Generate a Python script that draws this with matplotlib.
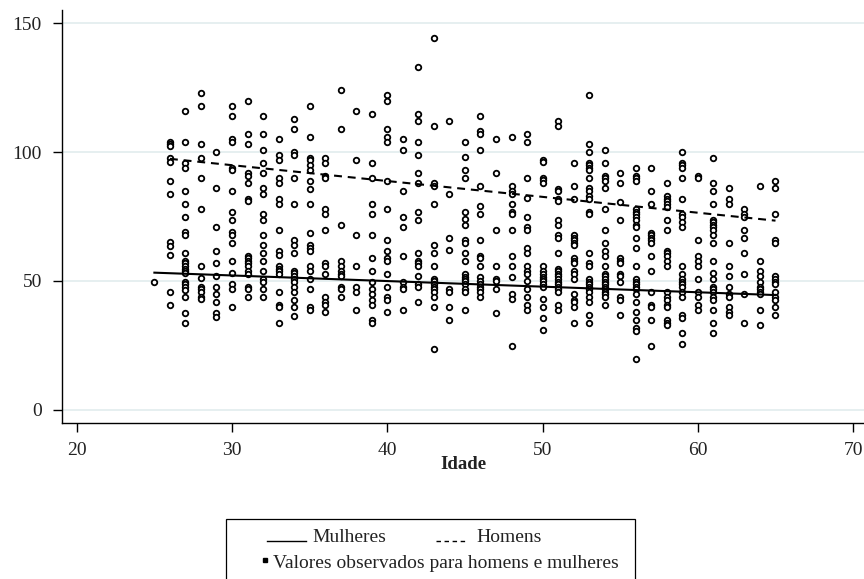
import matplotlib
matplotlib.use("Agg")
import matplotlib.pyplot as plt
from matplotlib.lines import Line2D
from matplotlib.patches import Rectangle

# ---------------- data ----------------
idade = [25, 26, 27, 28, 29, 30, 31, 32, 33, 34, 35, 36, 37, 38, 39, 40, 41, 42, 43, 44, 45,
         46, 47, 48, 49, 50, 51, 52, 53, 54, 55, 56, 57, 58, 59, 60, 61, 62, 63, 64, 65]

valores_observados = [
    [49.7],
    [104, 103, 102.5, 97.9, 96.2, 88.9, 83.8, 65, 63.4, 59.9, 45.7, 40.7],
    [116, 103.9, 95.8, 93.9, 84.9, 79.8, 74.8, 68.9, 68, 60.8, 57.8, 56.8, 55.8, 54.8, 53.8, 52.9,
     49.7, 48.7, 47.6, 46.6, 43.7, 37.6, 33.7],
    [123, 118.1, 103, 97.9, 89.8, 77.8, 55.7, 51.3, 47.8, 46.7, 45.7, 43.7, 42.8],
    [100, 85.9, 70.8, 61.8, 56.8, 51.8, 47.8, 44.8, 41.8, 37.7, 35.8],
    [118.1, 114, 105, 104, 93.9, 93, 84.9, 76.9, 73.8, 68.9, 67.8, 64.7, 57.8, 52.9, 48.8, 46.7, 39.7],
    [120, 107, 103, 91.9, 90.9, 87.9, 81.9, 81, 59.7, 58.7, 57.8, 56.8, 55.7, 53.8, 52.7, 47.8, 46.7, 43.7],
    [114, 107, 101, 95.9, 91.9, 85.9, 83.8, 75.9, 73.8, 67.8, 63.8, 60.8, 57.8, 53.8, 50.6, 49.7, 46.7, 43.7],
    [105, 99, 97, 90, 87.9, 81.9, 79.9, 69.8, 61.8, 59.9, 55.8, 54.8, 53.8, 52.7, 45.7, 40.7, 39.7, 33.7],
    [113, 109, 100, 99, 89.8, 79.8, 65.7, 63.8, 60.8, 53.8, 52.9, 51.8, 50.8, 49.7, 47.8, 45.7, 42.7, 39.7, 36.2],
    [118.1, 106, 97.9, 96.9, 94.9, 93, 88.9, 85.8, 79.8, 68.7, 63.8, 62.7, 61.8, 55.8, 53.8, 50.8, 46.7, 39.7, 38.6],
    [97.9, 95.9, 90.9, 89.8, 77.8, 75.9, 69.8, 56.8, 55.7, 52.7, 43.7, 41.8, 40.7, 37.8],
    [124, 109, 71.9, 57.8, 55.7, 53.8, 52.7, 51.8, 47.8, 46.7, 43.7],
    [116, 97, 67.8, 55.7, 47.8, 45.7, 38.6],
    [115, 95.9, 89.8, 79.8, 75.9, 67.8, 58.7, 53.8, 49.7, 46.7, 44.8, 42.7, 40.7, 34.8, 33.7],
    [122, 120, 109, 106, 103.9, 88.9, 77.8, 65.7, 61.8, 58.7, 57.8, 52.7, 47.8, 43.7, 42.7, 37.8],
    [105, 100.9, 84.9, 74.8, 70.8, 59.7, 49.7, 47.8, 46.7, 38.6],
    [133.1, 115, 112, 103.9, 99, 91.9, 87.9, 76.8, 73.8, 60.8, 57.8, 56.8, 55.7, 51.8, 48.7, 47.8, 41.8],
    [144.2, 110.1, 87.9, 86.9, 79.9, 63.9, 60.9, 55.9, 50.8, 49.8, 48.7, 47.8, 46.8, 45.8, 43.8, 39.8, 23.7],
    [112.2, 83.9, 66.8, 61.9, 46.8, 45.8, 39.8, 34.7],
    [104, 98, 93, 90, 76.9, 73.9, 71.9, 65.9, 64.9, 60.9, 57.9, 52.8, 51.7, 50.8, 49.8, 48.7, 46.8, 45.8, 38.7],
    [114.1, 108.1, 107, 101, 86.9, 79, 75.8, 65.9, 59.8, 58.8, 55.9, 51.7, 49.8, 48.7, 47.8, 46.8, 45.8, 43.8],
    [105, 92, 69.8, 55.9, 50.8, 49.8, 46.8, 37.7],
    [106, 86.9, 85, 83.9, 79.9, 76.9, 75.8, 69.8, 59.8, 55.9, 51.7, 44.8, 42.8, 24.8],
    [107, 104, 90, 82, 74.9, 70.9, 69.8, 62.8, 60.9, 55.9, 53.8, 52.8, 49.8, 46.8, 43.8, 40.8, 38.7],
    [97.1, 96, 90, 89, 87.9, 55.9, 53.8, 52.8, 51.7, 50.8, 49.8, 48.7, 47.8, 42.8, 39.8, 35.7, 30.8],
    [112, 110, 85.8, 84.9, 81.9, 81, 73.8, 71.9, 67.8, 66.8, 60.8, 54.8, 53.8, 52.7, 51.8, 50.8, 49.7,
     48.7, 47.8, 46.7, 45.7, 40.7, 38.6],
    [95.9, 86.8, 81.9, 67.8, 66.8, 65.7, 64.8, 63.8, 58.8, 57.8, 56.8, 53.8, 52.7, 50.8, 44.8, 42.7, 41.8, 39.7, 33.7],
    [122.1, 103, 100, 95.9, 94.9, 93.9, 93, 89.8, 85.9, 84.9, 82.9, 81.9, 76.8, 75.9, 60.8, 56.8, 55.7,
     50.8, 49.7, 48.7, 47.8, 46.7, 45.7, 43.7, 41.8, 36.7, 33.7],
    [100.9, 95.9, 90.9, 89.8, 88.9, 85.9, 77.8, 69.8, 64.7, 61.8, 59.7, 55.7, 52.7, 51.8, 50.8, 49.7,
     48.8, 47.8, 46.7, 45.7, 44.8, 43.7, 40.7],
    [91.9, 87.9, 80.8, 73.8, 58.7, 57.8, 56.8, 52.7, 51.8, 49.7, 43.7, 42.7, 36.7],
    [93.9, 90.9, 89.8, 88.9, 77.8, 76.8, 75.9, 74.8, 73.8, 71.9, 70.8, 66.8, 62.7, 55.7, 50.8, 49.7,
     48.8, 47.8, 46.7, 44.8, 41.8, 37.8, 34.8, 31.8, 30.7, 19.6],
    [93.9, 84.9, 79.8, 68.7, 67.8, 66.8, 65.7, 64.8, 59.7, 53.8, 45.7, 40.7, 39.7, 34.8, 24.6],
    [87.9, 82.9, 81.9, 81, 79.8, 78.8, 73.8, 69.8, 61.8, 60.8, 59.7, 57.8, 55.7, 45.7, 43.7, 42.7,
     40.7, 39.7, 34.8, 33.7, 32.7],
    [100, 95.9, 94.9, 93.9, 89.8, 81.9, 75.9, 74.8, 72.9, 70.8, 55.7, 52.7, 50.8, 49.7, 48.7, 47.8,
     45.7, 43.7, 36.7, 35.7, 29.7, 25.6],
    [90.9, 89.8, 65.7, 59.7, 57.8, 55.7, 50.8, 45.7, 43.7, 40.7, 38.6],
    [97.9, 87.9, 84.9, 79.8, 73.8, 72.9, 71.9, 70.8, 69.8, 67.8, 64.7, 57.8, 52.9, 50.8, 47.8, 46.7,
     45.7, 43.7, 42.7, 38.6, 33.7, 29.7],
    [85.9, 81.9, 79.8, 64.7, 55.7, 51.8, 47.8, 44.8, 43.7, 39.7, 37.8, 36.7],
    [77.8, 75.9, 74.8, 69.8, 66.8, 60.8, 52.7, 44.8, 33.7],
    [86.8, 57.8, 53.8, 51.8, 49.7, 47.8, 46.7, 45.7, 44.8, 38.6, 32.7],
    [88.9, 85.9, 75.9, 65.7, 64.7, 51.8, 50.8, 49.7, 48.8, 45.7, 43.7, 42.7, 39.7, 36.7],
]

# fitted lines (endpoints)
ajuste_mulheres_idade = [25, 65]
ajuste_mulheres = [53.2, 44.5]
ajuste_homens_idade = [26, 65]
ajuste_homens = [97.4, 73.4]

y_ticks = [0, 50, 100, 150]
x_ticks = [20, 30, 40, 50, 60, 70]

# ---------------- figure ----------------
plt.rcParams['font.family'] = ['Liberation Serif', 'DejaVu Serif']
W, H = 864, 579
fig = plt.figure(figsize=(W / 100, H / 100), dpi=100)

left_px, right_px, top_px, bottom_px = 62, 864, 10, 423.3
ax = fig.add_axes([left_px / W, 1 - bottom_px / H, (right_px - left_px) / W, (bottom_px - top_px) / H])

xs, ys = [], []
for a, vals in zip(idade, valores_observados):
    for v in vals:
        xs.append(a)
        ys.append(v)

ax.plot(xs, ys, linestyle='none', marker='o', markersize=4.0, markerfacecolor='white',
        markeredgecolor='black', markeredgewidth=1.3, zorder=3)
ax.plot(ajuste_mulheres_idade, ajuste_mulheres, color='black', lw=1.5, zorder=4)
ax.plot(ajuste_homens_idade, ajuste_homens, color='black', lw=1.5, linestyle=(0, (3.8, 2.8)), zorder=4)

ax.set_xlim(19.05, 70.7)
ax.set_ylim(-5.3, 155.2)
ax.set_xticks(x_ticks)
ax.set_yticks(y_ticks)
ax.set_yticklabels([str(t) for t in y_ticks])
ax.set_xticklabels([str(t) for t in x_ticks])

ax.grid(axis='y', color='#e6eff0', lw=1.4, zorder=0)
ax.set_axisbelow(True)
for s in ['top', 'right']:
    ax.spines[s].set_visible(False)
for s in ['left', 'bottom']:
    ax.spines[s].set_linewidth(1.0)
    ax.spines[s].set_color('black')

ax.tick_params(axis='both', direction='out', length=6.5, width=1.0, colors='black',
               labelsize=14, labelcolor='#222222')
ax.tick_params(axis='y', pad=8)
ax.tick_params(axis='x', pad=7)

ax.set_xlabel('Idade', fontsize=13.5, fontweight='bold', color='#222222')
ax.xaxis.set_label_coords(0.5, -0.078)

# ---------------- legend (drawn in figure pixels) ----------------
def fx(x):
    return x / W

def fy(y):
    return 1 - y / H

fig.add_artist(Rectangle((fx(226), fy(590)), fx(635) - fx(226), fy(519) - fy(590),
                         transform=fig.transFigure, fill=False, edgecolor='black', lw=0.9))
fig.add_artist(Line2D([fx(267), fx(306)], [fy(540.5), fy(540.5)], transform=fig.transFigure,
                      color='black', lw=1.0))
fig.text(fx(312.5), fy(542.5), 'Mulheres', fontsize=14, va='baseline', ha='left', color='#222222')
fig.add_artist(Line2D([fx(436), fx(468)], [fy(540.5), fy(540.5)], transform=fig.transFigure,
                      color='black', lw=1.0, linestyle=(0, (3.2, 2.6))))
fig.text(fx(476), fy(542.5), 'Homens', fontsize=14, va='baseline', ha='left', color='#222222')
fig.add_artist(Line2D([fx(264.5)], [fy(559.5)], transform=fig.transFigure, linestyle='none',
                      marker='s', markersize=2.2, color='black'))
fig.text(fx(273), fy(568), 'Valores observados para homens e mulheres', fontsize=14,
         va='baseline', ha='left', color='#222222')

fig.savefig('out.png', dpi=100)
